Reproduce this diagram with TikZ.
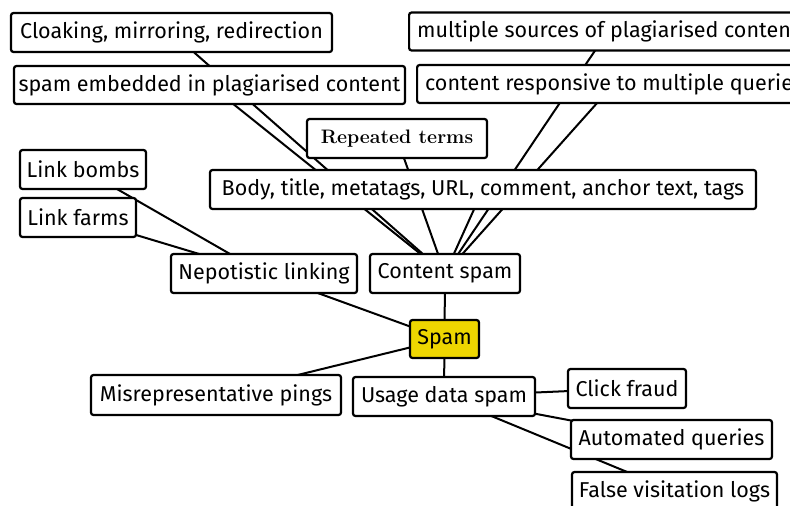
\documentclass[tikz,border=0pt]{standalone}
\usepackage{fontspec}
\setsansfont{Fira Sans}
\usetikzlibrary{backgrounds}
\definecolor{spamyellow}{HTML}{EED600}
\tikzset{
  topic/.style={draw, line width=2.2pt, rounded corners=2.5pt, fill=white,
    inner sep=0pt, font=\sffamily\fontsize{21.5}{24}\selectfont},
  root/.style={topic, fill=spamyellow},
  link/.style={line width=2pt}
}
\begin{document}
\begin{tikzpicture}[x=1pt, y=-1pt]
  \useasboundingbox (0,0) rectangle (790,506);
  % centre of the map
  \node[root, minimum width=69pt, minimum height=38pt] (spam) at (444.5,339) {Spam};
  % first level
  \node[topic, minimum width=150pt, minimum height=39pt] (content) at (445,273.5) {Content spam};
  \node[topic, minimum width=186pt, minimum height=39pt] (nepot) at (264,273.5) {Nepotistic linking};
  \node[topic, minimum width=250pt, minimum height=40pt] (pings) at (216,395) {Misrepresentative pings};
  \node[topic, minimum width=182pt, minimum height=39pt] (usage) at (444,396.5) {Usage data spam};
  % content spam branches
  \node[topic, minimum width=321pt, minimum height=39pt] (cloak) at (171.5,32.5) {Cloaking, mirroring, redirection};
  \node[topic, minimum width=391pt, minimum height=38pt] (embed) at (209.5,85) {spam embedded in plagiarised content};
  \node[topic, minimum width=180pt, minimum height=39pt, font=\rmfamily\bfseries\fontsize{19.5}{22}\selectfont] (terms) at (397,138.5) {Repeated terms};
  \node[topic, minimum width=546pt, minimum height=39pt] (body) at (483,189.5) {Body, title, metatags, URL, comment, anchor text, tags};
  \node[topic, minimum height=38pt, anchor=west, inner xsep=8pt] (sources) at (408,31.5) {multiple sources of plagiarised content};
  \node[topic, minimum height=38pt, anchor=west, inner xsep=8pt] (queries) at (416,84) {content responsive to multiple queries};
  % nepotistic linking branches
  \node[topic, minimum width=126pt, minimum height=39pt] (bombs) at (83,169.5) {Link bombs};
  \node[topic, minimum width=116pt, minimum height=39pt] (farms) at (78,217.5) {Link farms};
  % usage data branches
  \node[topic, minimum width=118pt, minimum height=39pt] (click) at (627,388.5) {Click fraud};
  \node[topic, minimum width=201pt, minimum height=39pt] (autoq) at (671.5,439.5) {Automated queries};
  \node[topic, minimum width=205pt, minimum height=39pt] (visits) at (674.5,491.5) {False visitation logs};
  % connectors, centre to centre, behind the boxes
  \begin{scope}[on background layer]
    \foreach \a/\b in {spam/content, spam/nepot, spam/pings, spam/usage,
                       content/cloak, content/embed, content/terms, content/body,
                       content/sources, content/queries,
                       nepot/bombs, nepot/farms,
                       usage/click, usage/autoq, usage/visits}
      \draw[link] (\a.center) -- (\b.center);
  \end{scope}
\end{tikzpicture}
\end{document}
